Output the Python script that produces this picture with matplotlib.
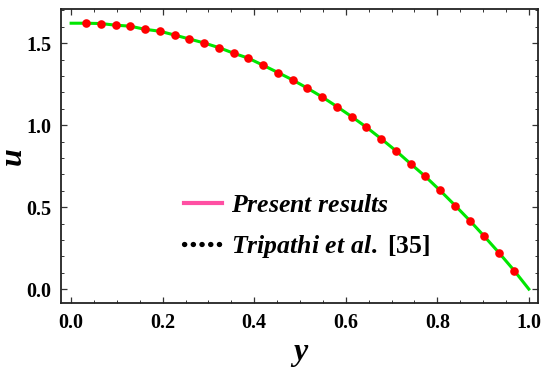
import matplotlib
matplotlib.use("Agg")
import matplotlib.pyplot as plt
import matplotlib.ticker as ticker
from matplotlib.lines import Line2D

# ---------------------------------------------------------------------------
# Data
# ---------------------------------------------------------------------------

# Present results (solid curve)
y_line = [0.0, 0.032, 0.065, 0.097, 0.129, 0.161, 0.194, 0.226, 0.258, 0.290,
          0.323, 0.355, 0.387, 0.419, 0.452, 0.484, 0.516, 0.548, 0.581, 0.613,
          0.645, 0.677, 0.710, 0.742, 0.774, 0.806, 0.839, 0.871, 0.903, 0.935,
          0.968, 1.0]
u_line = [1.622, 1.622, 1.620, 1.610, 1.604, 1.585, 1.573, 1.550, 1.526, 1.502,
          1.473, 1.439, 1.409, 1.366, 1.321, 1.276, 1.226, 1.173, 1.113, 1.052,
          0.988, 0.918, 0.843, 0.764, 0.687, 0.602, 0.510, 0.418, 0.321, 0.221,
          0.113, 0.0]

# Tripathi et al. [35] (dots)
y_dots = [0.032, 0.065, 0.097, 0.129, 0.161, 0.194, 0.226, 0.258, 0.290, 0.323,
          0.355, 0.387, 0.419, 0.452, 0.484, 0.516, 0.548, 0.581, 0.613, 0.645,
          0.677, 0.710, 0.742, 0.774, 0.806, 0.839, 0.871, 0.903, 0.935, 0.968]
u_dots = [1.622, 1.620, 1.610, 1.604, 1.585, 1.573, 1.550, 1.526, 1.502, 1.473,
          1.439, 1.409, 1.366, 1.321, 1.276, 1.226, 1.173, 1.113, 1.052, 0.988,
          0.918, 0.843, 0.764, 0.687, 0.602, 0.510, 0.418, 0.321, 0.221, 0.113]

x_ticks = [0.0, 0.2, 0.4, 0.6, 0.8, 1.0]
y_ticks = [0.0, 0.5, 1.0, 1.5]

# ---------------------------------------------------------------------------
# Style
# ---------------------------------------------------------------------------

SERIF = "Liberation Serif"
plt.rcParams["mathtext.fontset"] = "custom"
plt.rcParams["mathtext.it"] = "Liberation Serif:italic:bold"
plt.rcParams["mathtext.rm"] = "Liberation Serif:bold"

fig = plt.figure(figsize=(5.5, 3.73), dpi=100)
ax = fig.add_axes([0.111, 0.188, 0.868, 0.788])

ax.plot(y_line, u_line, color="#00e600", linewidth=2.2, zorder=2)
ax.plot(y_dots, u_dots, linestyle="none", marker="o", markersize=6.2,
        color="#ff0000", markeredgewidth=0, zorder=3)

ax.set_xlim(-0.022, 1.021)
ax.set_ylim(-0.084, 1.709)

ax.set_xticks(x_ticks)
ax.set_yticks(y_ticks)
ax.xaxis.set_major_formatter(ticker.FormatStrFormatter("%.1f"))
ax.yaxis.set_major_formatter(ticker.FormatStrFormatter("%.1f"))
ax.xaxis.set_minor_locator(ticker.MultipleLocator(0.05))
ax.yaxis.set_minor_locator(ticker.MultipleLocator(0.1))

ax.tick_params(axis="both", which="both", direction="in", top=True, right=True,
               color="#333333")
ax.tick_params(axis="both", which="major", length=4, width=0.9, pad=7)
ax.tick_params(axis="both", which="minor", length=2.2, width=0.7)

for lbl in ax.get_xticklabels() + ax.get_yticklabels():
    lbl.set_fontfamily(SERIF)
    lbl.set_fontweight("bold")
    lbl.set_fontsize(14.5)

for sp in ax.spines.values():
    sp.set_linewidth(1.3)
    sp.set_color("#222222")

ax.set_xlabel("y", fontfamily=SERIF, fontstyle="italic", fontweight="bold",
              fontsize=23)
ax.xaxis.set_label_coords(0.502, -0.12)
ax.set_ylabel("u", fontfamily=SERIF, fontstyle="italic", fontweight="bold",
              fontsize=23)
ax.yaxis.set_label_coords(-0.07, 0.5)

handles = [
    Line2D([], [], color="#ff4fa3", linewidth=3.0),
    Line2D([], [], color="black", linewidth=3.8, linestyle=(0, (0.05, 1.6)),
           dash_capstyle="round"),
]
labels = [r"$\mathit{Present\ results}$", r"$\mathit{Tripathi\ et\ al.}$ [35]"]
leg = ax.legend(handles, labels, loc="upper left", bbox_to_anchor=(0.21, 0.45),
                frameon=False, handlelength=1.45, handletextpad=0.35,
                labelspacing=0.65, prop={"family": SERIF, "weight": "bold", "size": 18.5})

fig.savefig("out.png", dpi=100)
